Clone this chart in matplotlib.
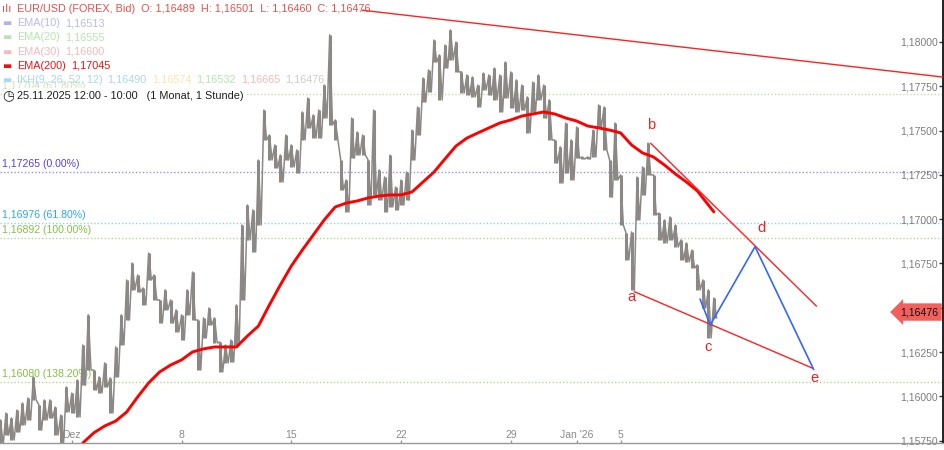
import matplotlib.pyplot as plt

# trading time in hours since 25.11.2025 12:00 (weekends left out), one bar every 6 hours
bar_step = 6
price_high = [1.15839, 1.15867, 1.15906, 1.15878, 1.15923, 1.15963, 1.15991, 1.16110, 1.15952, 1.15980,
              1.15980, 1.15940, 1.15895, 1.16053, 1.16019, 1.16093, 1.16290, 1.16460, 1.16149, 1.16110,
              1.16189, 1.16104, 1.16279, 1.16460, 1.16657, 1.16753, 1.16685, 1.16612, 1.16809, 1.16685,
              1.16544, 1.16601, 1.16544, 1.16488, 1.16460, 1.16601, 1.16702, 1.16431, 1.16443, 1.16499,
              1.16443, 1.16307, 1.16290, 1.16318, 1.16516, 1.16967, 1.17080, 1.17052, 1.17334, 1.17616,
              1.17475, 1.17419, 1.17362, 1.17475, 1.17419, 1.17391, 1.17605, 1.17684, 1.17588, 1.17616,
              1.17757, 1.18040, 1.17560, 1.17334, 1.17221, 1.17571, 1.17492, 1.17475, 1.17334, 1.17616,
              1.17278, 1.17238, 1.17362, 1.17182, 1.17221, 1.17266, 1.17503, 1.17633, 1.17797, 1.17842,
              1.18011, 1.17927, 1.17983, 1.18068, 1.18000, 1.17831, 1.17814, 1.17803, 1.17757, 1.17825,
              1.17814, 1.17853, 1.17814, 1.17887, 1.17831, 1.17786, 1.17757, 1.17690, 1.17774, 1.17814,
              1.17757, 1.17673, 1.17447, 1.17408, 1.17543, 1.17447, 1.17520, 1.17351, 1.17351, 1.17503,
              1.17645, 1.17633, 1.17334, 1.17543, 1.17250, 1.16922, 1.16928, 1.17238, 1.17295, 1.17430,
              1.17250, 1.17035, 1.16996, 1.17013, 1.16967, 1.16883, 1.16866, 1.16826, 1.16742, 1.16657,
              1.16601, 1.16555]
price_low = [1.15726, 1.15726, 1.15782, 1.15754, 1.15799, 1.15839, 1.15867, 1.15980, 1.15810, 1.15867,
             1.15878, 1.15782, 1.15737, 1.15912, 1.15906, 1.15884, 1.16064, 1.16149, 1.16036, 1.16019,
             1.16053, 1.15906, 1.16110, 1.16290, 1.16431, 1.16601, 1.16589, 1.16516, 1.16657, 1.16544,
             1.16414, 1.16488, 1.16414, 1.16364, 1.16318, 1.16460, 1.16431, 1.16149, 1.16330, 1.16403,
             1.16302, 1.16138, 1.16189, 1.16194, 1.16290, 1.16544, 1.16883, 1.16815, 1.16967, 1.17447,
             1.17334, 1.17289, 1.17210, 1.17334, 1.17295, 1.17261, 1.17447, 1.17515, 1.17458, 1.17458,
             1.17571, 1.17532, 1.17447, 1.17165, 1.17041, 1.17345, 1.17362, 1.17362, 1.17080, 1.17137,
             1.17108, 1.17041, 1.17069, 1.17052, 1.17080, 1.17108, 1.17334, 1.17475, 1.17661, 1.17718,
             1.17887, 1.17673, 1.17853, 1.17898, 1.17831, 1.17712, 1.17701, 1.17690, 1.17633, 1.17729,
             1.17701, 1.17673, 1.17605, 1.17684, 1.17628, 1.17605, 1.17616, 1.17487, 1.17605, 1.17673,
             1.17571, 1.17447, 1.17317, 1.17204, 1.17261, 1.17221, 1.17345, 1.17340, 1.17340, 1.17351,
             1.17520, 1.17391, 1.17125, 1.17221, 1.16967, 1.16770, 1.16601, 1.16996, 1.17137, 1.17250,
             1.17024, 1.16883, 1.16866, 1.16883, 1.16843, 1.16770, 1.16759, 1.16725, 1.16601, 1.16499,
             1.16330, 1.16443]

ema_hours = list(range(96, 781, 12)) + [786]
ema200 = [1.15737, 1.15794, 1.15833, 1.15861, 1.15912, 1.15997, 1.16076, 1.16138, 1.16177, 1.16206,
          1.16251, 1.16268, 1.16279, 1.16279, 1.16279, 1.16341, 1.16397, 1.16516, 1.16629, 1.16736,
          1.16826, 1.16911, 1.16996, 1.17069, 1.17091, 1.17103, 1.17120, 1.17131, 1.17137, 1.17137,
          1.17154, 1.17210, 1.17266, 1.17340, 1.17413, 1.17458, 1.17487, 1.17515, 1.17543, 1.17560,
          1.17582, 1.17594, 1.17605, 1.17594, 1.17571, 1.17554, 1.17526, 1.17515, 1.17503, 1.17487,
          1.17419, 1.17374, 1.17351, 1.17306, 1.17255, 1.17210, 1.17159, 1.17080, 1.17041]

# trading days after 01.12.2025
date_days = [0, 5, 10, 15, 20, 23, 25]
date_labels = ['Dez', '8', '15', '22', '29', "Jan '26", '5']

price_ticks = [1.18, 1.1775, 1.175, 1.1725, 1.17, 1.1675, 1.165, 1.1625, 1.16, 1.1575]

fib_values = [1.17704, 1.17265, 1.16976, 1.16892, 1.16080]
fib_percent = ['61.80%', '0.00%', '61.80%', '100.00%', '138.20%']
fib_text_colors = ['#cfe4b4', '#5b3fe0', '#2ea6f2', '#86bf45', '#86bf45']
fib_line_colors = ['#c4df9e', '#9b8cf2', '#8fd0fa', '#b6d98c', '#b6d98c']

top_line_hours = [402, 1040]
top_line_prices = [1.18179, 1.17800]
upper_line_hours = [717, 898]
upper_line_prices = [1.17428, 1.16510]
lower_line_hours = [699, 894]
lower_line_prices = [1.16591, 1.16159]
path_hours = [771, 782, 831, 895]
path_prices = [1.16548, 1.16403, 1.16845, 1.16153]

wave_labels = ['a', 'b', 'c', 'd', 'e']
wave_hours = [696, 717, 780, 838, 896]
wave_prices = [1.16561, 1.17532, 1.16279, 1.16950, 1.16104]

last_close = 1.16476

plt.rcParams['font.family'] = ['Liberation Sans', 'DejaVu Sans']


def fmt(v):
    return f"{v:.5f}".replace('.', ',')


def header_line(ax, offset_y, parts, marker=None, marker_color=None, marker_size=7):
    if marker:
        ax.annotate(marker, xy=(0, 1), xycoords='axes fraction', xytext=(2, -offset_y),
                    textcoords='offset pixels', va='center', color=marker_color,
                    fontsize=marker_size, family='DejaVu Sans', zorder=6)
    prev = None
    for text, color in parts:
        if prev is None:
            prev = ax.annotate(text, xy=(0, 1), xycoords='axes fraction', xytext=(17, -offset_y),
                               textcoords='offset pixels', va='center', color=color,
                               fontsize=7.8, zorder=6)
        else:
            prev = ax.annotate(text, xy=(1, 0.5), xycoords=prev, xytext=(5, 0),
                               textcoords='offset pixels', va='center', color=color,
                               fontsize=7.8, zorder=6)
    return prev


def draw_chart():
    fig = plt.figure(figsize=(9.45, 4.5), dpi=100)
    ax = fig.add_axes([0, 7 / 450, 943 / 945, 443 / 450])

    ax.set_xlim(5.5, 1036.5)
    ax.set_ylim(1.15737, 1.18237)

    # fibonacci levels
    for v, pct, tc, lc in zip(fib_values, fib_percent, fib_text_colors, fib_line_colors):
        ax.axhline(v, color=lc, lw=1, linestyle=(0, (1, 1.5)), zorder=1)
        ax.annotate(f"{fmt(v)} ({pct})", xy=(0, v), xycoords=('axes fraction', 'data'),
                    xytext=(2, 3), textcoords='offset pixels', va='bottom', color=tc,
                    fontsize=7.6, zorder=2)

    # price bars
    bar_hours = [bar_step * i for i in range(len(price_high))]
    zig_x, zig_y = [], []
    for h, hi, lo in zip(bar_hours, price_high, price_low):
        zig_x += [h, h + bar_step / 2]
        zig_y += [hi, lo]
    ax.vlines(bar_hours, price_low, price_high, color='#8b8885', lw=2.2, zorder=2)
    ax.plot(zig_x, zig_y, color='#8b8885', lw=1.1, zorder=2)

    ax.plot(ema_hours, ema200, color='#ff0000', lw=2.1, zorder=3, solid_capstyle='round')

    # trend lines and wave count
    ax.plot(top_line_hours, top_line_prices, color='#ff2020', lw=1, zorder=3)
    ax.plot(upper_line_hours, upper_line_prices, color='#ff2020', lw=1, zorder=3)
    ax.plot(lower_line_hours, lower_line_prices, color='#ff2020', lw=1, zorder=3)
    ax.plot(path_hours, path_prices, color='#3366ff', lw=1.2, zorder=3)
    for lab, h, p in zip(wave_labels, wave_hours, wave_prices):
        ax.text(h, p, lab, color='#f02020', fontsize=10.5, ha='center', va='center', zorder=4)

    # current price tag
    ax.annotate(fmt(last_close), xy=(1, last_close), xycoords=('axes fraction', 'data'),
                xytext=(-5, 0), textcoords='offset pixels', ha='right', va='center',
                fontsize=7.6, color='#111111', zorder=7, annotation_clip=False,
                bbox=dict(boxstyle='larrow,pad=0.35', fc='#f25f5c', ec='none'))

    # axes
    ax.yaxis.tick_right()
    ax.tick_params(axis='y', direction='in', length=3, width=1, pad=-3.5,
                   labelsize=7.5, labelcolor='#7d7d7d', color='#333333')
    ax.set_yticks(price_ticks, [fmt(v) for v in price_ticks], ha='right')

    ax.tick_params(axis='x', direction='in', length=2, width=1, pad=-9,
                   labelsize=7.5, labelcolor='#8a8a8a', color='#999999')
    ax.set_xticks([84 + 24 * d for d in date_days], date_labels)

    for side in ['top', 'left']:
        ax.spines[side].set_visible(False)
    ax.spines['right'].set_color('#111111')
    ax.spines['right'].set_linewidth(1.3)
    ax.spines['bottom'].set_color('#9a9a9a')
    ax.spines['bottom'].set_linewidth(1)

    # header
    header_line(ax, 9, [('EUR/USD (FOREX, Bid)  O: 1,16489  H: 1,16501  L: 1,16460  C: 1,16476', '#e8504c')],
                marker='ılı', marker_color='#e8504c', marker_size=8)
    header_line(ax, 23, [('EMA(10)', '#b4bcf0'), ('1,16513', '#b4bcf0')], marker='▬', marker_color='#aab4f0')
    header_line(ax, 37, [('EMA(20)', '#b5e6ad'), ('1,16555', '#b5e6ad')], marker='▬', marker_color='#b5e6ad')
    header_line(ax, 52, [('EMA(30)', '#f5b9b9'), ('1,16600', '#f5b9b9')], marker='▬', marker_color='#f5b9b9')
    header_line(ax, 66, [('EMA(200)', '#ee1111'), ('1,17045', '#ee1111')], marker='▬', marker_color='#ee1111')
    header_line(ax, 80, [('IKH(9, 26, 52, 12)', '#aad8ee'), ('1,16490', '#aad8ee'), ('1,16574', '#f7e8a6'),
                         ('1,16532', '#b5e6ad'), ('1,16665', '#f5b9b9'), ('1,16476', '#cccccc')],
                marker='▬', marker_color='#aad8ee')
    clock = header_line(ax, 96, [('25.11.2025 12:00 - 10:00   (1 Monat, 1 Stunde)', '#1e1e1e')],
                        marker='◷', marker_color='#1e1e1e', marker_size=10)
    clock.set_bbox(dict(fc='white', ec='none', pad=2))

    fig.savefig('out.png', dpi=100)


def main():
    draw_chart()


main()
